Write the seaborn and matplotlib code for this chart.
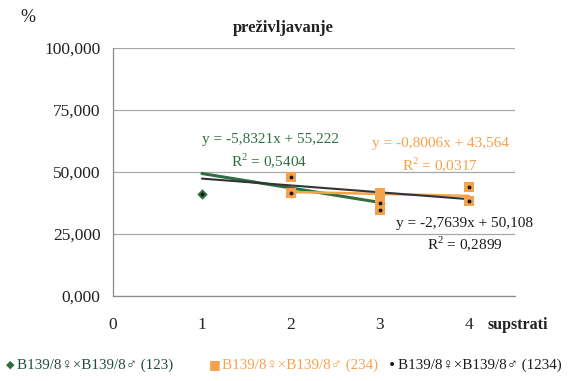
import numpy as np
import pandas as pd
import matplotlib
matplotlib.use("Agg")
import matplotlib.pyplot as plt
import seaborn as sns

# Survival (%) per substrate for three crossing combinations
x_123 = [1, 2, 3]
y_123 = [41.0, 41.5, 37.5]

x_234 = [2, 2, 3, 3, 3, 4, 4]
y_234 = [48.0, 41.5, 41.5, 37.5, 34.5, 44.0, 38.5]

x_1234 = [1, 2, 2, 3, 3, 4, 4]
y_1234 = [41.0, 48.0, 41.5, 37.5, 34.5, 44.0, 38.5]

# Linear trend coefficients (slope, intercept), R² and span of each trend line
trend_123 = (-5.8321, 55.222)
trend_234 = (-0.8006, 43.564)
trend_1234 = (-2.7639, 50.108)
r2_123, r2_234, r2_1234 = 0.5404, 0.0317, 0.2899
span_123, span_234, span_1234 = (1, 3), (2, 4), (1, 4)

y_ticks = [0, 25, 50, 75, 100]
x_ticks = [0, 1, 2, 3, 4]

labels = ["B139/8♀×B139/8♂ (123)", "B139/8♀×B139/8♂ (234)", "B139/8♀×B139/8♂ (1234)"]
c_green = "#2f6e45"
c_orange = "#f5a24c"
c_black = "#1a1a1a"

sns.set_theme(style="white")
serif = ["Liberation Serif", "DejaVu Serif"]
plt.rcParams["font.family"] = serif
plt.rcParams["mathtext.fontset"] = "custom"
plt.rcParams["mathtext.rm"] = "Liberation Serif"

fig = plt.figure(figsize=(5.71, 3.81), dpi=100)
ax = fig.add_axes([113 / 571, 1 - 296 / 381, (515 - 113) / 571, (296 - 48) / 381])


def fmt(v, d):
    return f"{v:.{d}f}".replace(".", ",")


def trend_frame(coef, span):
    xs = np.array(span, dtype=float)
    return pd.DataFrame({"x": xs, "y": coef[0] * xs + coef[1]})


# trend lines
sns.lineplot(data=trend_frame(trend_123, span_123), x="x", y="y", ax=ax,
             color=c_green, lw=2.2, zorder=3)
sns.lineplot(data=trend_frame(trend_234, span_234), x="x", y="y", ax=ax,
             color=c_orange, lw=1.8, zorder=3)
sns.lineplot(data=trend_frame(trend_1234, span_1234), x="x", y="y", ax=ax,
             color="#333333", lw=1.5, zorder=4)

# points
sns.scatterplot(x=x_123, y=y_123, ax=ax, marker="D", s=28, color=c_green,
                edgecolor=c_green, linewidth=0, zorder=5)
sns.scatterplot(x=x_234, y=y_234, ax=ax, marker="s", s=55, color=c_orange,
                edgecolor=c_orange, linewidth=0, zorder=6)
sns.scatterplot(x=x_1234, y=y_1234, ax=ax, marker="o", s=8, color=c_black,
                edgecolor=c_black, linewidth=0, zorder=7)

ax.set_xlim(0, 4.52)
ax.set_ylim(0, 100)
ax.set_xticks(x_ticks)
ax.set_yticks(y_ticks)
ax.set_yticklabels([fmt(v, 3) for v in y_ticks], fontsize=12.5)
ax.set_xticklabels([str(v) for v in x_ticks], fontsize=12.5)
ax.set_xlabel("")
ax.set_ylabel("")
ax.yaxis.grid(True, color="#a8a8a8", lw=0.9)
ax.set_axisbelow(True)
for s in ["top", "right"]:
    ax.spines[s].set_visible(False)
for s in ["left", "bottom"]:
    ax.spines[s].set_color("#8a8a8a")
    ax.spines[s].set_linewidth(0.9)
ax.tick_params(axis="y", direction="out", length=4, color="#8a8a8a", pad=5,
               labelcolor="#222222")
ax.tick_params(axis="x", direction="inout", length=6, color="#8a8a8a", pad=12,
               labelcolor="#222222")

# equations
def eq_text(coef):
    return f"y = {fmt(coef[0], 4)}x + {fmt(coef[1], 3)}"

eq_fs = 11
fig.text(270 / 571, 1 - 139 / 381, eq_text(trend_123), color=c_green,
         fontsize=eq_fs, ha="center", va="center")
fig.text(269 / 571, 1 - 161 / 381, "R$^2$ = " + fmt(r2_123, 4), color=c_green,
         fontsize=eq_fs, ha="center", va="center")
fig.text(441 / 571, 1 - 144 / 381, eq_text(trend_234), color=c_orange,
         fontsize=eq_fs, ha="center", va="center")
fig.text(440 / 571, 1 - 165 / 381, "R$^2$ = " + fmt(r2_234, 4), color=c_orange,
         fontsize=eq_fs, ha="center", va="center")
fig.text(465 / 571, 1 - 224 / 381, eq_text(trend_1234), color=c_black,
         fontsize=eq_fs, ha="center", va="center")
fig.text(465 / 571, 1 - 244 / 381, "R$^2$ = " + fmt(r2_1234, 4), color=c_black,
         fontsize=eq_fs, ha="center", va="center")

# titles and axis captions
fig.text(283 / 571, 1 - 28 / 381, "preživljavanje", fontsize=12, ha="center",
         va="center", color="#222222", fontweight="bold")
fig.text(20 / 571, 1 - 18 / 381, "%", fontsize=13, ha="left", va="center",
         color="#222222")
fig.text(488 / 571, 1 - 325 / 381, "supstrati", fontsize=11.5, ha="left",
         va="center", color="#222222", fontweight="bold")

# legend row
leg_y = 1 - 365 / 381
leg_fs = 10.8
fig.text(10 / 571, leg_y, "◆", color=c_green, fontsize=8, ha="center", va="center",
         family=["DejaVu Sans"])
fig.text(17 / 571, leg_y, labels[0], color="#1f4d3a", fontsize=leg_fs, ha="left",
         va="center", family=serif)
fig.text(215 / 571, leg_y, "■", color=c_orange, fontsize=9, ha="center", va="center",
         family=["DejaVu Sans"])
fig.text(222 / 571, leg_y, labels[1], color=c_orange, fontsize=leg_fs, ha="left",
         va="center", family=serif)
fig.text(392 / 571, leg_y, "•", color=c_black, fontsize=10, ha="center", va="center",
         family=["DejaVu Sans"])
fig.text(398 / 571, leg_y, labels[2], color=c_black, fontsize=leg_fs, ha="left",
         va="center", family=serif)

fig.savefig("out.png", dpi=100, facecolor="white")
